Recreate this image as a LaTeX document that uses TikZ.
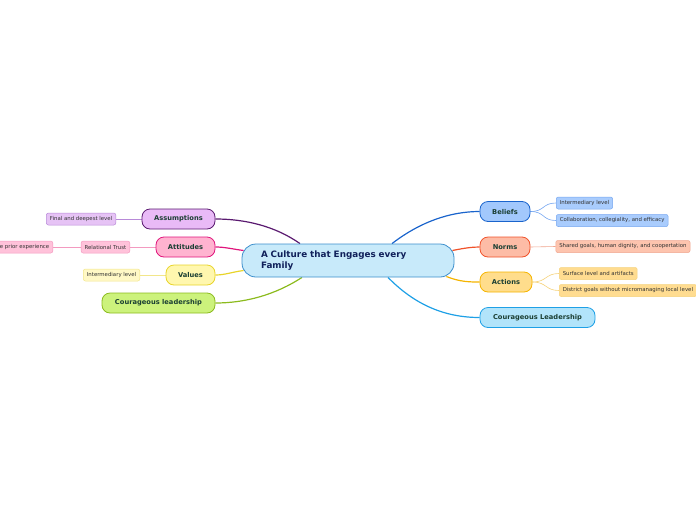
\documentclass[tikz,border=0pt]{standalone}
\usepackage{fontspec}
\setmainfont{DejaVu Sans}
\usetikzlibrary{calc}
\definecolor{cfill}{HTML}{C8EAFA}\definecolor{cdraw}{HTML}{3C8FCC}
\definecolor{asf}{HTML}{E9BAF7}\definecolor{asd}{HTML}{5A1A70}
\definecolor{asl}{HTML}{E6C3F5}\definecolor{asld}{HTML}{B88AD8}
\definecolor{atf}{HTML}{FFB3D0}\definecolor{atd}{HTML}{E0157C}
\definecolor{atl}{HTML}{FFC2DA}\definecolor{atld}{HTML}{F39AC0}
\definecolor{vaf}{HTML}{FFF7AE}\definecolor{vad}{HTML}{E8D42A}
\definecolor{val}{HTML}{FFF8C6}\definecolor{vald}{HTML}{F2E68A}
\definecolor{clf}{HTML}{CCF27C}\definecolor{cld}{HTML}{8CBB1E}
\definecolor{bef}{HTML}{A2C8FC}\definecolor{bed}{HTML}{1A64CC}
\definecolor{bel}{HTML}{A9CCFD}\definecolor{beld}{HTML}{75A6F0}
\definecolor{nof}{HTML}{FDBCA6}\definecolor{nod}{HTML}{F0522A}
\definecolor{nol}{HTML}{FDC4AE}\definecolor{nold}{HTML}{F0A58E}
\definecolor{acf}{HTML}{FFDD8C}\definecolor{acd}{HTML}{F5B400}
\definecolor{acl}{HTML}{FFDC90}\definecolor{acld}{HTML}{F5D27A}
\definecolor{crf}{HTML}{B2E4FA}\definecolor{crd}{HTML}{1EA0E6}
\definecolor{btext}{HTML}{1B3F33}\definecolor{ltext}{HTML}{333333}
\definecolor{ttext}{HTML}{10205A}
\pgfdeclarelayer{bg}\pgfsetlayers{bg,main}
\tikzset{
  branch/.style={draw, line width=0.8pt, rounded corners=8pt, minimum height=20pt, inner xsep=10pt, inner ysep=0pt, font=\fontsize{6.7}{7}\selectfont\bfseries, text=btext},
  leaf/.style={draw, line width=0.5pt, rounded corners=2pt, minimum height=12pt, inner xsep=3.5pt, inner ysep=0pt, font=\fontsize{5.4}{6}\selectfont, text=ltext},
  mainline/.style={line width=1.2pt},
  leafline/.style={line width=0.6pt}
}
\begin{document}
\begin{tikzpicture}[x=1pt,y=-1pt]
\useasboundingbox (0,0) rectangle (696,520);
% central
\node[draw=cdraw, fill=cfill, line width=0.8pt, rounded corners=14pt, minimum height=33pt, text width=174pt, inner xsep=19pt, inner ysep=3pt, align=left, font=\fontsize{8.8}{10.5}\selectfont\bfseries, text=ttext] (c) at (348,260.5) {A Culture that Engages every\\Family};
% left branches
\node[branch, fill=asf, draw=asd, minimum width=73pt] (as) at (178.5,219) {Assumptions};
\node[leaf, fill=asl, draw=asld, anchor=east] (as1) at (116,219) {Final and deepest level};
\node[branch, fill=atf, draw=atd, minimum width=59pt] (at) at (185.5,247) {Attitudes};
\node[leaf, fill=atl, draw=atld, anchor=east] (at1) at (130,247) {Relational Trust};
\node[leaf, fill=atl, draw=atld, anchor=east] (at2) at (53,247) {Positive prior experience};
\node[branch, fill=vaf, draw=vad, minimum width=49pt] (va) at (190.5,275) {Values};
\node[leaf, fill=val, draw=vald, anchor=east] (va1) at (140,275) {Intermediary level};
\node[branch, fill=clf, draw=cld, minimum width=113pt] (cl) at (158.5,303) {Courageous leadership};
% right branches
\node[branch, fill=bef, draw=bed, minimum width=50pt] (be) at (505,211.5) {Beliefs};
\node[leaf, fill=bel, draw=beld, anchor=west] (be1) at (556,203) {Intermediary level};
\node[leaf, fill=bel, draw=beld, anchor=west] (be2) at (556,220.5) {Collaboration, collegiality, and efficacy};
\node[branch, fill=nof, draw=nod, minimum width=50pt] (no) at (505,247) {Norms};
\node[leaf, fill=nol, draw=nold, anchor=west] (no1) at (555.5,246.5) {Shared goals, human dignity, and coopertation};
\node[branch, fill=acf, draw=acd, minimum width=52pt] (ac) at (506,282) {Actions};
\node[leaf, fill=acl, draw=acld, anchor=west] (ac1) at (559,273.5) {Surface level and artifacts};
\node[leaf, fill=acl, draw=acld, anchor=west] (ac2) at (559,290.5) {District goals without micromanaging local level};
\node[branch, fill=crf, draw=crd, minimum width=115pt] (cr) at (537.5,317.5) {Courageous Leadership};
% connectors
\begin{pgfonlayer}{bg}
\draw[mainline, asd] ($(c.north)+(-48,0)$) .. controls (275,226) and (245,219) .. (as.east);
\draw[mainline, atd] ($(c.west)+(2,-10)$) .. controls (232,249) and (225,247) .. (at.east);
\draw[mainline, vad] ($(c.west)+(2,10)$) .. controls (232,272) and (225,275) .. (va.east);
\draw[mainline, cld] ($(c.south)+(-46,0)$) .. controls (275,295) and (245,303) .. (cl.east);
\draw[mainline, bed] ($(c.north)+(44,0)$) .. controls (420,222) and (450,211.5) .. (be.west);
\draw[mainline, nod] ($(c.east)+(-2,-10)$) .. controls (465,248) and (472,247) .. (no.west);
\draw[mainline, acd] ($(c.east)+(-8,16)$) .. controls (460,282) and (470,282) .. (ac.west);
\draw[mainline, crd] ($(c.south)+(40,0)$) .. controls (415,305) and (445,317.5) .. (cr.west);
\draw[leafline, asld] (as.west) -- (as1.east);
\draw[leafline, atld] (at.west) -- (at1.east);
\draw[leafline, atld] (at1.west) -- (at2.east);
\draw[leafline, vald] (va.west) -- (va1.east);
\draw[leafline, beld] (be.east) .. controls (545,211.5) and (542,203) .. (be1.west);
\draw[leafline, beld] (be.east) .. controls (545,211.5) and (542,220.5) .. (be2.west);
\draw[leafline, nold] (no.east) -- (no1.west);
\draw[leafline, acld] (ac.east) .. controls (547,282) and (545,273.5) .. (ac1.west);
\draw[leafline, acld] (ac.east) .. controls (547,282) and (545,290.5) .. (ac2.west);
\end{pgfonlayer}
\end{tikzpicture}
\end{document}
